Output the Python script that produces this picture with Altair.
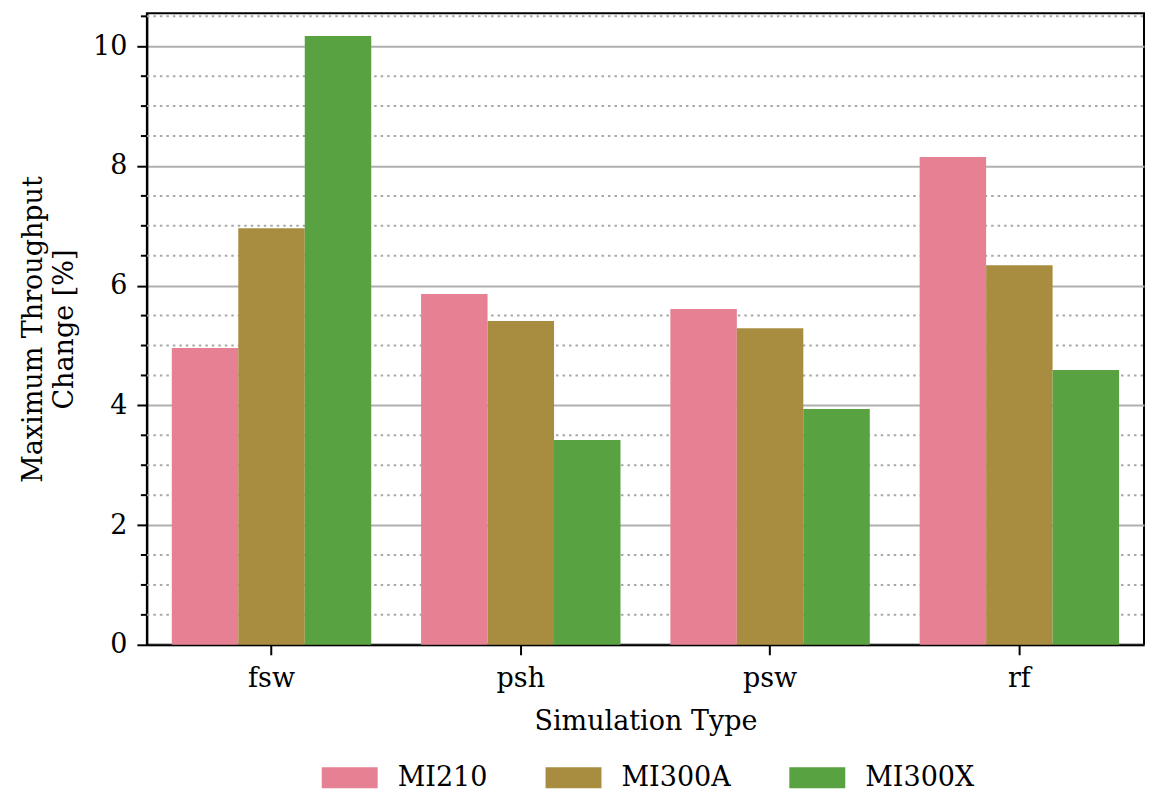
import altair as alt
import pandas as pd

# values
sim_types = ["fsw", "psh", "psw", "rf"]
gpus = ["MI210", "MI300A", "MI300X"]
mi210 = [4.96, 5.86, 5.61, 8.15]
mi300a = [6.96, 5.41, 5.29, 6.34]
mi300x = [10.17, 3.42, 3.94, 4.59]
colors = ["#e58192", "#a88d41", "#58a241"]

major_ticks = [0, 2, 4, 6, 8, 10]
minor_ticks = [0.5, 1, 1.5, 2.5, 3, 3.5, 4.5, 5, 5.5, 6.5, 7, 7.5, 8.5, 9, 9.5, 10.5]
y_max = 10.55

rows = []
for gpu, vals in zip(gpus, [mi210, mi300a, mi300x]):
    for sim, v in zip(sim_types, vals):
        rows.append({"sim": sim, "gpu": gpu, "change": v})
df = pd.DataFrame(rows)
minor_df = pd.DataFrame({"y": minor_ticks})

FONT = "DejaVu Serif"
FS = 27

W, H = 998, 632
y_scale = alt.Scale(domain=[0, y_max], nice=False, zero=True)

# dotted minor grid lines behind the bars
minor_grid = alt.Chart(minor_df).mark_rule(
    color="#a8a8a8", strokeWidth=2, strokeDash=[2.5, 4]
).encode(
    y=alt.Y("y:Q", scale=y_scale),
    x=alt.value(0),
    x2=alt.value(W),
)

# minor tick marks on the y axis
minor_tick = alt.Chart(minor_df).mark_rule(color="black", strokeWidth=2).encode(
    y=alt.Y("y:Q", scale=y_scale),
    x=alt.value(-6),
    x2=alt.value(0),
)

bars = alt.Chart(df).mark_bar().encode(
    x=alt.X(
        "sim:N",
        sort=sim_types,
        title="Simulation Type",
        scale=alt.Scale(paddingInner=0.2, paddingOuter=0.1),
        axis=alt.Axis(labelAngle=0, tickSize=10, tickWidth=2, tickColor="black",
                      domainColor="black", domainWidth=2, labelPadding=11,
                      titlePadding=17, grid=False),
    ),
    xOffset=alt.XOffset("gpu:N", sort=gpus, scale=alt.Scale(paddingInner=0, paddingOuter=0)),
    y=alt.Y(
        "change:Q",
        scale=y_scale,
        title=["Maximum Throughput", "Change [%]"],
        axis=alt.Axis(values=major_ticks, format="d", tickSize=10, tickWidth=2,
                      tickColor="black", domainColor="black", domainWidth=2,
                      labelPadding=10, titlePadding=14, grid=True,
                      gridColor="#b0b0b0", gridWidth=2),
    ),
    color=alt.Color(
        "gpu:N",
        sort=gpus,
        scale=alt.Scale(domain=gpus, range=colors),
        legend=alt.Legend(
            orient="none", legendX=175, legendY=737,
            direction="horizontal", title=None,
            symbolType="M-1,-0.375H1V0.375H-1Z", symbolSize=3136,
            symbolStrokeWidth=0, symbolOpacity=1,
            labelOffset=20, columnPadding=58,
        ),
    ),
)

chart = alt.layer(minor_grid, bars, minor_tick).properties(
    width=W, height=H,
    padding={"left": 11, "top": 5, "right": 2, "bottom": 2},
).configure(
    font=FONT,
).configure_axis(
    labelFont=FONT, titleFont=FONT, labelFontSize=FS, titleFontSize=FS,
    labelColor="black", titleColor="black", titleFontWeight="normal",
    titleLineHeight=31,
).configure_legend(
    labelFont=FONT, labelFontSize=FS, labelColor="black",
).configure_view(
    stroke="black", strokeWidth=2,
)

chart.save("out.html", embed_options={"renderer": "svg", "actions": False})
